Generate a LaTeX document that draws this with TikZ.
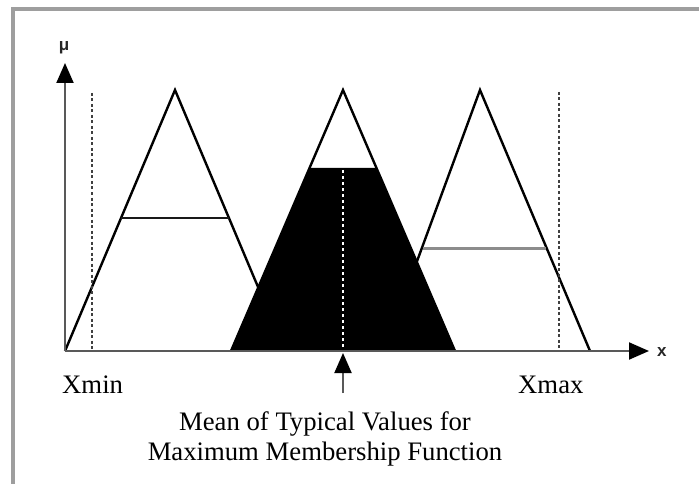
\documentclass[tikz,border=0pt]{standalone}
\usepackage{fontspec}
\setmainfont{Liberation Serif}
\newfontfamily\axisfont{Liberation Sans}
\usetikzlibrary{arrows.meta}
\begin{document}
\begin{tikzpicture}[x=1pt,y=-1pt,
  frameline/.style={draw=black!38,line width=4pt},
  axisline/.style={draw=black!65,line width=2pt},
  tri/.style={draw=black,line width=2.4pt,line join=miter},
  level/.style={draw=black!90,line width=2pt},
  greylevel/.style={draw=black!45,line width=3pt},
  bound/.style={draw=black!75,line width=1.5pt,dash pattern=on 3pt off 2.5pt},
  meanline/.style={draw=white,line width=1.6pt,dash pattern=on 3pt off 3pt},
  bigtip/.style={-{Triangle[length=20pt,width=17pt,color=black]}},
  lbl/.style={font=\fontsize{26.7}{30}\selectfont,inner sep=0pt},
  axlbl/.style={font=\axisfont\bfseries\fontsize{17}{17}\selectfont,inner sep=0pt,text=black!85}]
\useasboundingbox (0,0) rectangle (699,484);
\begin{scope}
  \clip (0,0) rectangle (699,484);
  \draw[frameline] (13,9.5) rectangle (720,510);
\end{scope}

% key points
\coordinate (o) at (65,351);
\coordinate (ytip) at (65,63);
\coordinate (xtip) at (649,351);

% membership triangles
\draw[tri] (65,351) -- (175,90) -- (285,351);
\draw[tri] (384,351) -- (480,90) -- (590,351);
\draw[tri] (231,351) -- (343,90) -- (455,351);

% clipped (shaded) middle set
\fill[black] (231,351) -- (309.5,168) -- (376.5,168) -- (455,351) -- cycle;

% alpha levels in the outer sets
\draw[level] (121,218) -- (229,218);
\draw[greylevel] (423,248) -- (546,248);

% domain bounds and mean line
\draw[bound] (92,93) -- (92,351);
\draw[bound] (559,92) -- (559,351);
\draw[meanline] (343,170) -- (343,351);

% axes
\draw[axisline,bigtip] (o) -- (ytip);
\draw[axisline,bigtip] (o) -- (xtip);
\node[axlbl] (mu) at (64,48) {μ};
\node[axlbl,anchor=west] (xl) at (657,352) {x};

% mean marker
\coordinate (mfoot) at (343,393);
\coordinate (mtip) at (343,353);
\draw[axisline,bigtip] (mfoot) -- (mtip);

% labels
\node[lbl,anchor=base west] (xmin) at (62,393) {Xmin};
\node[lbl,anchor=base west] (xmax) at (518,393) {Xmax};
\node[lbl,anchor=base] (cap1) at (325,430) {Mean of Typical Values for};
\node[lbl,anchor=base] (cap2) at (325,460) {Maximum Membership Function};
\end{tikzpicture}
\end{document}
